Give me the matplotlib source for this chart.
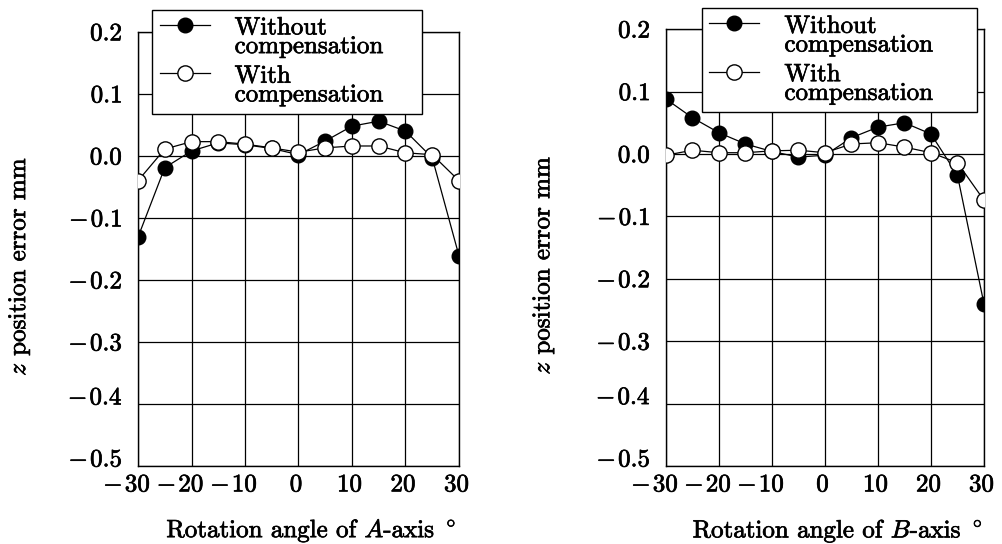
import matplotlib
matplotlib.use("Agg")
import matplotlib.pyplot as plt
import matplotlib.patheffects as pe
from matplotlib.ticker import FuncFormatter
from matplotlib.legend_handler import HandlerLine2D
from matplotlib.transforms import ScaledTranslation

# ── Data ──────────────────────────────────────────────────────────────────────
angles = [-30, -25, -20, -15, -10, -5, 0, 5, 10, 15, 20, 25, 30]

a_without = [-0.131, -0.019, 0.008, 0.021, 0.018, 0.012, 0.002, 0.024, 0.048, 0.056, 0.040, -0.003, -0.161]
a_with = [-0.040, 0.011, 0.023, 0.023, 0.019, 0.013, 0.006, 0.013, 0.016, 0.016, 0.005, 0.002, -0.040]

b_without = [0.088, 0.058, 0.034, 0.016, 0.004, -0.005, -0.002, 0.026, 0.043, 0.050, 0.032, -0.034, -0.240]
b_with = [-0.002, 0.006, 0.002, 0.002, 0.005, 0.006, 0.002, 0.016, 0.018, 0.011, 0.002, -0.014, -0.074]

x_ticks = [-30, -20, -10, 0, 10, 20, 30]
y_ticks = [0.2, 0.1, 0.0, -0.1, -0.2, -0.3, -0.4, -0.5]
labels = ["Without\ncompensation", "With\ncompensation"]

# ── Style ─────────────────────────────────────────────────────────────────────
plt.rcParams.update({
    "font.family": "cmr10",
    "mathtext.fontset": "cm",
    "axes.formatter.use_mathtext": True,
    "font.size": 18,
})
# slightly heavier text, closer to the scanned look
INK = [pe.withStroke(linewidth=0.5, foreground="black")]


class RaisedHandler(HandlerLine2D):
    """Line+marker handle lifted to sit beside the first label line."""
    def create_artists(self, legend, orig_handle, xdescent, ydescent,
                       width, height, fontsize, trans):
        artists = super().create_artists(legend, orig_handle, xdescent, ydescent,
                                         width, height, fontsize, trans)
        for a in artists:
            a.set_ydata([y + 0.5 * fontsize for y in a.get_ydata()])
        return artists


def fmt_num(v, digits):
    s = f"{abs(v):.{digits}f}"
    if round(v, digits) < 0:
        return rf"${{-}}\hspace{{0.1}}{s}$"
    return f"${s}$"


def nudge(label, dx, dy):
    label.set_transform(label.get_transform()
                        + ScaledTranslation(dx, dy, fig.dpi_scale_trans))


fig = plt.figure(figsize=(10.03, 5.44), dpi=100)
ax_a = fig.add_axes([0.1376, 0.1434, 0.320, 0.798])
ax_b = fig.add_axes([0.664, 0.1434, 0.317, 0.803])


def draw_panel(ax, without, with_, axis_name, legend_box, ylab_x):
    h1, = ax.plot(angles, without, "-o", color="black", lw=0.9, ms=10.5,
                  mfc="black", mec="black", zorder=3, label=labels[0])
    h2, = ax.plot(angles, with_, "-o", color="black", lw=0.9, ms=11,
                  mfc="white", mec="black", mew=1.0, zorder=4, label=labels[1])
    ax.set_xlim(-30, 30)
    ax.set_ylim(-0.5, 0.2)
    ax.set_xticks(x_ticks)
    ax.set_yticks(y_ticks)
    ax.xaxis.set_major_formatter(FuncFormatter(lambda v, p: fmt_num(v, 0)))
    ax.yaxis.set_major_formatter(FuncFormatter(lambda v, p: fmt_num(v, 1)))
    ax.tick_params(length=0, labelsize=18)
    ax.tick_params(axis="y", pad=11)
    ax.tick_params(axis="x", pad=6)
    ax.grid(True, color="black", lw=0.9)
    for s in ax.spines.values():
        s.set_linewidth(1.0)
        s.set_color("black")

    # negative x labels sit a bit left of their grid line, as in the original
    for tick, v in zip(ax.xaxis.get_major_ticks(), x_ticks):
        nudge(tick.label1, -0.11 if v < 0 else -0.02, 0)
    # the two lowest y labels sit slightly above their grid lines
    for tick, v in zip(ax.yaxis.get_major_ticks(), y_ticks):
        if v <= -0.4:
            nudge(tick.label1, 0, 0.08)

    ax.set_xlabel(rf"Rotation angle of ${axis_name}$-axis $^\circ$", fontsize=18)
    ax.set_ylabel(r"$z$ position error mm", fontsize=18)
    ax.xaxis.set_label_coords(0.54, -0.118)
    ax.yaxis.set_label_coords(ylab_x, 0.46)

    leg = ax.legend(handles=[h1, h2], loc="upper left", bbox_to_anchor=legend_box,
                    mode="expand", frameon=True, fancybox=False, edgecolor="black",
                    framealpha=1, fontsize=18, handlelength=2.0,
                    handletextpad=1.0, borderpad=0.3, labelspacing=0.3,
                    borderaxespad=0,
                    handler_map={h1: RaisedHandler(), h2: RaisedHandler()})
    leg.get_frame().set_linewidth(1.0)
    leg.set_zorder(10)
    for t in leg.get_texts():
        t.set_linespacing(0.8)
        t.set_path_effects(INK)

    for t in ax.get_xticklabels() + ax.get_yticklabels():
        t.set_path_effects(INK)
    ax.xaxis.label.set_path_effects(INK)
    ax.yaxis.label.set_path_effects(INK)


draw_panel(ax_a, a_without, a_with, "A", (0.044, 1.051, 0.841, 0.0), -0.33)
draw_panel(ax_b, b_without, b_with, "B", (0.113, 1.048, 0.865, 0.0), -0.345)

fig.savefig("out.png", dpi=100)
